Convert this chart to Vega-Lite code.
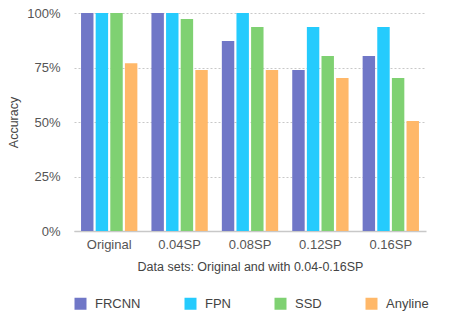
{
  "$schema": "https://vega.github.io/schema/vega-lite/v6.json",
  "width": 352,
  "height": 218,
  "autosize": "none",
  "padding": {"left": 74, "top": 13, "right": 32, "bottom": 88},
  "config": {
    "font": "Liberation Sans",
    "view": {"stroke": null},
    "axis": {"labelColor": "#555555", "titleColor": "#444444", "labelFontSize": 13, "titleFontSize": 12.5, "titleFontWeight": "normal"}
  },
  "data": {
    "values": [
      {"set": "Original", "model": "FRCNN", "acc": 100},
      {"set": "Original", "model": "FPN", "acc": 100},
      {"set": "Original", "model": "SSD", "acc": 100},
      {"set": "Original", "model": "Anyline", "acc": 77},
      {"set": "0.04SP", "model": "FRCNN", "acc": 100},
      {"set": "0.04SP", "model": "FPN", "acc": 100},
      {"set": "0.04SP", "model": "SSD", "acc": 97.2},
      {"set": "0.04SP", "model": "Anyline", "acc": 73.9},
      {"set": "0.08SP", "model": "FRCNN", "acc": 87.2},
      {"set": "0.08SP", "model": "FPN", "acc": 100},
      {"set": "0.08SP", "model": "SSD", "acc": 93.6},
      {"set": "0.08SP", "model": "Anyline", "acc": 73.9},
      {"set": "0.12SP", "model": "FRCNN", "acc": 73.9},
      {"set": "0.12SP", "model": "FPN", "acc": 93.6},
      {"set": "0.12SP", "model": "SSD", "acc": 80.3},
      {"set": "0.12SP", "model": "Anyline", "acc": 70.2},
      {"set": "0.16SP", "model": "FRCNN", "acc": 80.3},
      {"set": "0.16SP", "model": "FPN", "acc": 93.6},
      {"set": "0.16SP", "model": "SSD", "acc": 70.2},
      {"set": "0.16SP", "model": "Anyline", "acc": 50.5}
    ]
  },
  "mark": {"type": "bar"},
  "encoding": {
    "x": {
      "field": "set", "type": "nominal",
      "sort": ["Original", "0.04SP", "0.08SP", "0.12SP", "0.16SP"],
      "scale": {"paddingInner": 0.2, "paddingOuter": 0.1},
      "axis": {"title": "Data sets: Original and with 0.04-0.16SP", "labelAngle": 0, "ticks": false, "domainColor": "#c8c8c8", "domainWidth": 1.5, "labelPadding": 7, "titlePadding": 9}
    },
    "xOffset": {
      "field": "model", "type": "nominal",
      "sort": ["FRCNN", "FPN", "SSD", "Anyline"],
      "scale": {"paddingInner": 0.15}
    },
    "y": {
      "field": "acc", "type": "quantitative",
      "scale": {"domain": [0, 100]},
      "axis": {"title": "Accuracy", "values": [0, 25, 50, 75, 100], "labelExpr": "datum.value + '%'", "domain": false, "ticks": false, "labelPadding": 14, "titlePadding": 6, "gridColor": "#c8c8c8", "gridDash": [2, 2], "gridWidth": 1}
    },
    "color": {
      "field": "model", "type": "nominal",
      "sort": ["FRCNN", "FPN", "SSD", "Anyline"],
      "scale": {"domain": ["FRCNN", "FPN", "SSD", "Anyline"], "range": ["#7077c7", "#25cbfd", "#7fd172", "#ffb869"]},
      "legend": {"title": null, "orient": "none", "direction": "horizontal", "legendX": 0, "legendY": 284, "symbolType": "square", "symbolSize": 144, "symbolStrokeWidth": 0, "symbolOpacity": 1, "labelFontSize": 13, "labelColor": "#444444", "labelOffset": 8, "columnPadding": 43}
    }
  }
}
